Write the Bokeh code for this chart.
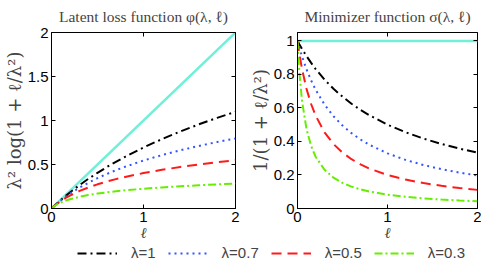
from bokeh.plotting import figure
from bokeh.layouts import column, row
from bokeh.models import (Range1d, FixedTicker, NumeralTickFormatter,
                          Legend, LegendItem, LinearAxis, CustomLabelingPolicy)
from bokeh.embed import file_html
from bokeh.resources import INLINE

# ---------------- data ----------------
ell = [0, 0.01, 0.02, 0.05, 0.1, 0.15, 0.2, 0.3, 0.4, 0.5, 0.6, 0.7, 0.8,
       1.0, 1.2, 1.4, 1.6, 1.8, 2.0]

# latent loss  phi(lambda, ell)
phi_l1 = [0, 0.0100, 0.0198, 0.0488, 0.0953, 0.1398, 0.1823, 0.2624, 0.3365,
          0.4055, 0.4700, 0.5306, 0.5878, 0.6931, 0.7885, 0.8755, 0.9555,
          1.0296, 1.0986]
phi_l07 = [0, 0.0099, 0.0196, 0.0476, 0.0910, 0.1309, 0.1677, 0.2340, 0.2924,
           0.3446, 0.3918, 0.4348, 0.4743, 0.5449, 0.6067, 0.6615, 0.7107,
           0.7555, 0.7966]
phi_l05 = [0, 0.0098, 0.0192, 0.0456, 0.0841, 0.1175, 0.1469, 0.1971, 0.2389,
           0.2747, 0.3059, 0.3338, 0.3588, 0.4024, 0.4395, 0.4718, 0.5004,
           0.5260, 0.5493]
phi_l03 = [0, 0.0095, 0.0181, 0.0398, 0.0672, 0.0883, 0.1053, 0.1320, 0.1525,
           0.1692, 0.1833, 0.1955, 0.2062, 0.2245, 0.2396, 0.2526, 0.2639,
           0.2740, 0.2831]
phi_inf_x = [0, 2]
phi_inf_y = [0, 2]

# minimizer  sigma(lambda, ell)
sig_l1 = [1, 0.990, 0.980, 0.952, 0.909, 0.870, 0.833, 0.769, 0.714, 0.667,
          0.625, 0.588, 0.556, 0.500, 0.455, 0.417, 0.385, 0.357, 0.333]
sig_l07 = [1, 0.980, 0.961, 0.907, 0.8305, 0.7656, 0.7101, 0.6203, 0.5506,
           0.4949, 0.4495, 0.4118, 0.3798, 0.3289, 0.2899, 0.2593, 0.2345,
           0.2140, 0.1968]
sig_l05 = [1, 0.9615, 0.9259, 0.8333, 0.7143, 0.625, 0.5556, 0.4545, 0.3846,
           0.3333, 0.2941, 0.2632, 0.2381, 0.2, 0.1724, 0.1515, 0.1351,
           0.1220, 0.1111]
sig_l03 = [1, 0.9, 0.8182, 0.6429, 0.4737, 0.375, 0.3103, 0.2308, 0.1837,
           0.1525, 0.1304, 0.1139, 0.1011, 0.0826, 0.0698, 0.0604, 0.0533,
           0.0476, 0.0431]
sig_inf_x = [0, 2]
sig_inf_y = [1, 1]

x_ticks = [0, 1, 2]
y_ticks_left = [0, 0.5, 1, 1.5, 2]
y_ticks_right = [0, 0.2, 0.4, 0.6, 0.8, 1]

series_labels = ["λ=1", "λ=0.7", "λ=0.5", "λ=0.3"]

# ---------------- styles ----------------
SERIF = "Liberation Serif"
LABEL_SERIF = "DejaVu Serif"
SANS = "Liberation Sans"
styles = [
    dict(color="#000000", dash="9 4 2 4"),
    dict(color="#3355ff", dash="2 4"),
    dict(color="#ff1a1a", dash="10 6"),
    dict(color="#66ee00", dash="8 3 2 3"),
]
CYAN = "#70f0d8"

HIDE_LABELS = """
try {
  const ks = Array.from(indices);
  for (const k of ks) {
    if (typeof indices.unset === "function") { indices.unset(k) }
    else { indices.set(k, false) }
  }
} catch (e) {}
return indices
"""


def style_axes(p, yticks, ylabel):
    p.grid.visible = False
    p.outline_line_color = "black"
    p.outline_line_width = 1
    for ax in p.xaxis + p.yaxis:
        ax.major_tick_in = 4
        ax.major_tick_out = 0
        ax.minor_tick_line_color = None
        ax.axis_line_color = "black"
        ax.major_tick_line_color = "black"
        ax.major_label_text_font = SANS
        ax.major_label_text_font_size = "15px"
        ax.major_label_text_color = "black"
        ax.formatter = NumeralTickFormatter(format="0.[0]")
    p.xaxis.major_label_standoff = 3
    p.yaxis.major_label_standoff = 3
    p.xaxis.ticker = FixedTicker(ticks=x_ticks)
    p.yaxis.ticker = FixedTicker(ticks=yticks)
    p.xaxis.axis_label = "ℓ"
    p.xaxis.axis_label_text_font = SERIF
    p.xaxis.axis_label_text_font_style = "italic"
    p.xaxis.axis_label_text_font_size = "15px"
    p.xaxis.axis_label_standoff = 0
    p.yaxis.axis_label = ylabel
    p.yaxis.axis_label_text_font = LABEL_SERIF
    p.yaxis.axis_label_text_font_style = "normal"
    p.yaxis.axis_label_text_font_size = "18px"
    p.yaxis.axis_label_standoff = 0
    p.title.text_font = SERIF
    p.title.text_font_size = "15.5px"
    p.title.text_font_style = "normal"
    p.title.align = "center"
    p.title.standoff = 8
    # tick marks on the top and right edges (box style), no labels there
    for loc, tk in (("above", x_ticks), ("right", yticks)):
        ax = LinearAxis(ticker=FixedTicker(ticks=tk), major_tick_in=4,
                        major_tick_out=0, minor_tick_line_color=None,
                        axis_line_color=None, major_label_text_font_size="1px",
                        major_label_standoff=0, major_tick_line_color="black",
                        major_label_policy=CustomLabelingPolicy(code=HIDE_LABELS))
        p.add_layout(ax, loc)


p1 = figure(width=242, height=244, x_range=Range1d(0, 2), y_range=Range1d(0, 2),
            output_backend="svg", toolbar_location=None,
            title="Latent loss function φ(λ, ℓ)",
            min_border_left=48, min_border_right=7, min_border_top=32,
            min_border_bottom=36)
p2 = figure(width=239, height=244, x_range=Range1d(0, 2), y_range=Range1d(0, 1.05),
            output_backend="svg", toolbar_location=None,
            title="Minimizer function σ(λ, ℓ)",
            min_border_left=55, min_border_right=4, min_border_top=32,
            min_border_bottom=36)

style_axes(p1, y_ticks_left, "λ² log(1 + ℓ/λ²)")
style_axes(p2, y_ticks_right, "1/(1 + ℓ/λ²)")

p1.line(phi_inf_x, phi_inf_y, line_color=CYAN, line_width=2.5)
p2.line(sig_inf_x, sig_inf_y, line_color=CYAN, line_width=2.5)

for ys, st in zip([phi_l1, phi_l07, phi_l05, phi_l03], styles):
    p1.line(ell, ys, line_color=st["color"], line_width=2, line_dash=st["dash"])
for ys, st in zip([sig_l1, sig_l07, sig_l05, sig_l03], styles):
    p2.line(ell, ys, line_color=st["color"], line_width=2, line_dash=st["dash"])

# legend strip
p3 = figure(width=481, height=17, output_backend="svg", toolbar_location=None,
            min_border=0, x_range=Range1d(0, 1), y_range=Range1d(0, 1))
p3.axis.visible = False
p3.grid.visible = False
p3.outline_line_color = None
items = []
for ys, lab, st in zip([sig_l1, sig_l07, sig_l05, sig_l03], series_labels, styles):
    r = p3.line(ell, ys, line_color=st["color"], line_width=2,
                line_dash=st["dash"], visible=False)
    items.append(LegendItem(label=lab, renderers=[r]))
leg = Legend(items=items, orientation="horizontal", location=(77, 0),
             glyph_width=40, glyph_height=16, label_standoff=14, spacing=12,
             padding=0, margin=0, border_line_color=None,
             background_fill_alpha=0, label_text_font=SANS,
             label_text_font_size="15px", label_height=16)
p3.add_layout(leg, "center")

layout = column(row(p1, p2), p3)
open("out.html", "w").write(file_html(layout, INLINE))
